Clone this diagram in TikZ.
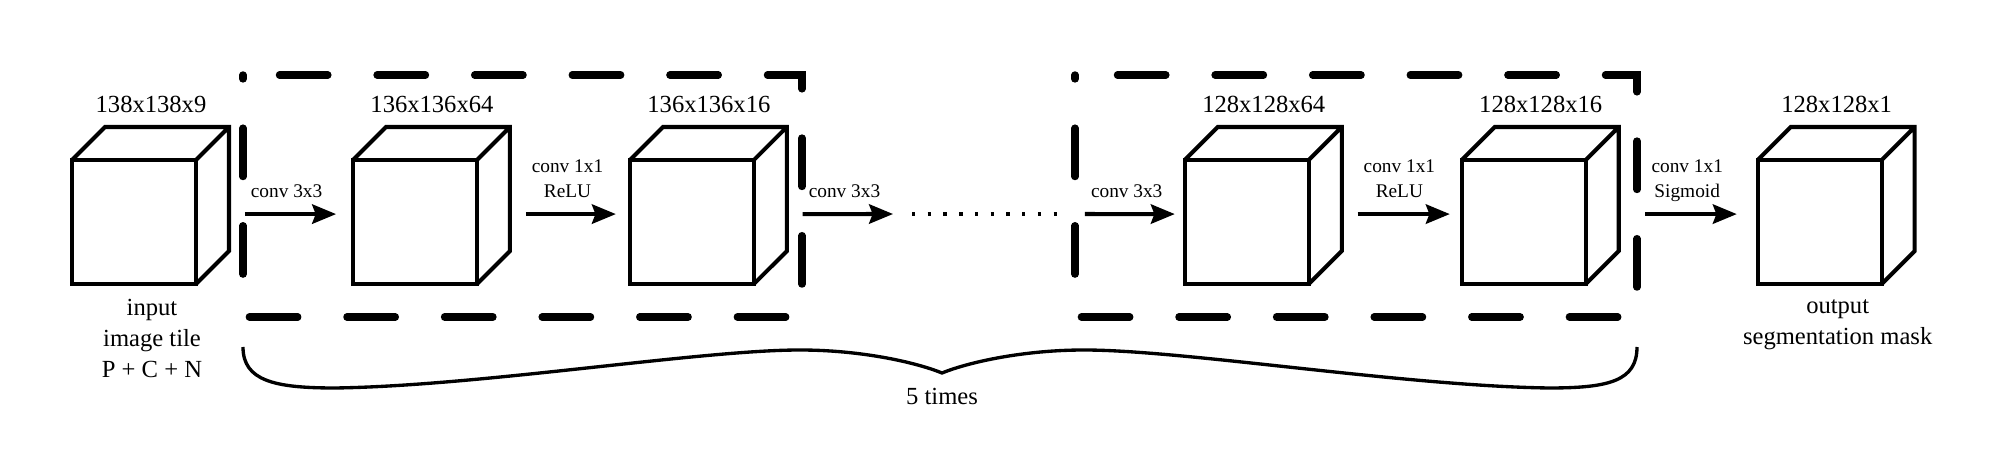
\documentclass[tikz,border=0pt]{standalone}
\usepackage{fontspec}
\setmainfont{Liberation Serif}
\usetikzlibrary{arrows.meta, positioning}

\tikzset{
  cube/.style={draw, line width=2.3pt, minimum width=2.48cm, minimum height=2.48cm, inner sep=0pt, outer sep=0pt},
  cubeedge/.style={line width=2.3pt},
  dimlabel/.style={font=\fontsize{14}{17.6}\selectfont, anchor=south, inner sep=0pt, text depth=0pt},
  desc/.style={font=\fontsize{14}{17.6}\selectfont, anchor=north, align=center, inner sep=0pt},
  arr/.style={-{Stealth[length=13.6pt, width=11pt, inset=2pt]}, line width=2.3pt, shorten <=27.8pt, shorten >=8pt},
  lbl/.style={pos=0, anchor=south west, xshift=#1, yshift=8.3pt, font=\fontsize{11}{14.2}\selectfont, align=center, inner sep=0pt, text depth=0pt},
  lbl/.default=30.1pt,
  repeatbox/.style={line width=4.2pt, line cap=round, dash pattern=on 27.55pt off 28pt, dash phase=25.3pt},
  dots/.style={line width=1.9pt, dash pattern=on 1.9pt off 7.05pt}
}

\begin{document}
\begin{tikzpicture}[x=0.02cm, y=0.02cm]
  \fill[white] (0,0) rectangle (1995,476);
  % Cubes
  \node[cube] (c1) at (134,254) {};
  \node[cube, right=3.14cm of c1] (c2) {};
  \node[cube, right=3.06cm of c2] (c3) {};
  \node[cube, right=8.62cm of c3] (c4) {};
  \node[cube, right=3.06cm of c4] (c5) {};
  \node[cube, right=3.44cm of c5] (c6) {};
  \foreach \i in {1,...,6}
    \draw[cubeedge] (c\i.north west) -- ++(33,33) -- ++(124,0) -- ++(0,-124) -- (c\i.south east)
      (c\i.north east) -- ++(33,33);
  % Sizes
  \node[dimlabel] (s1) at ([shift={(17,47.5)}]c1.north) {138x138x9};
  \node[dimlabel] (s2) at ([shift={(17,47.5)}]c2.north) {136x136x64};
  \node[dimlabel] (s3) at ([shift={(17,47.5)}]c3.north) {136x136x16};
  \node[dimlabel] (s4) at ([shift={(17,47.5)}]c4.north) {128x128x64};
  \node[dimlabel] (s5) at ([shift={(17,47.5)}]c5.north) {128x128x16};
  \node[dimlabel] (s6) at ([shift={(17,47.5)}]c6.north) {128x128x1};
  \node[desc] (in) at ([shift={(18,-15)}]c1.south) {input\\image tile\\P + C + N};
  \node[desc] (out) at ([shift={(18,-15)}]c6.south) {output\\segmentation mask};
  % Repeated blocks
  \draw[repeatbox] (243,401) -- (243,159) -- (802,159) -- (802,401) -- cycle;
  \draw[repeatbox] (1075,401) -- (1075,159) -- (1637,159) -- (1637,401) -- cycle;
  % Arrows
  \coordinate (d1) at (912,262);
  \coordinate (d2) at (1057,262);
  \draw[arr, shorten >=9.6pt] ([yshift=4.5pt]c1.east) -- ([yshift=4.5pt]c2.west) node[lbl] {conv 3x3};
  \draw[arr] ([yshift=4.5pt]c2.east) -- ([yshift=4.5pt]c3.west) node[lbl] {conv 1x1\\ReLU};
  \draw[arr, shorten >=10.8pt] ([yshift=4.5pt]c3.east) -- (d1) node[lbl] {conv 3x3};
  \draw[dots] (d1) -- (d2);
  \draw[arr, shorten <=15.9pt, shorten >=5.7pt] (d2) -- ([yshift=4.5pt]c4.west) node[lbl=18.2pt] {conv 3x3};
  \draw[arr, shorten >=6.8pt] ([yshift=4.5pt]c4.east) -- ([yshift=4.5pt]c5.west) node[lbl] {conv 1x1\\ReLU};
  \draw[arr, shorten <=34pt, shorten >=11.9pt] ([yshift=4.5pt]c5.east) -- ([yshift=4.5pt]c6.west) node[lbl=36.3pt] {conv 1x1\\Sigmoid};
  % Brace
  \coordinate (tip) at (942,103);
  \draw[line width=1.9pt] (243,129) .. controls (243,95) and (275,88) .. (335,88)
    .. controls (480,90) and (700,126) .. (800,126)
    .. controls (860,126) and (915,114) .. (tip)
    .. controls (969,114) and (1024,126) .. (1084,126)
    .. controls (1184,126) and (1404,90) .. (1549,88)
    .. controls (1609,88) and (1637,95) .. (1637,129);
  \node[desc, below=0.3cm of tip] (rep) {5 times};
\end{tikzpicture}
\end{document}
